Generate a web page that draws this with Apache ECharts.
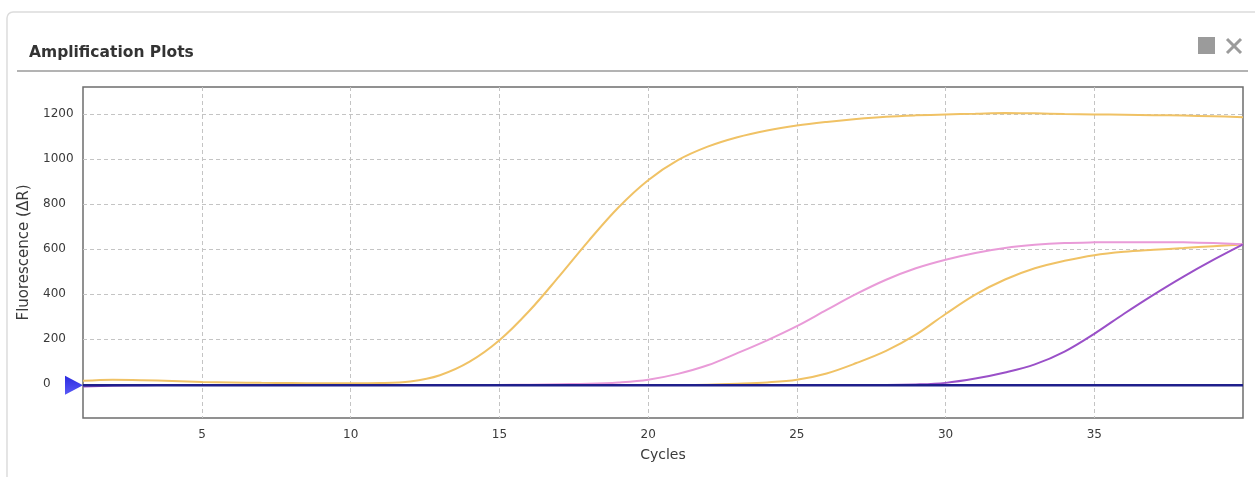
<!DOCTYPE html>
<html>
<head>
<meta charset="utf-8">
<script src="https://cdn.jsdelivr.net/npm/echarts@6/dist/echarts.min.js"></script>
<style>
html,body{margin:0;padding:0;background:#fff;}
#chart{width:1255px;height:477px;}
</style>
</head>
<body>
<div id="chart"></div>
<script>
const CYCLES = [1,2,3,4,5,6,7,8,9,10,11,12,13,14,15,16,17,18,19,20,21,22,23,24,25,26,27,28,29,30,31,32,33,34,35,36,37,38,39,40];
const X_TICKS = [5,10,15,20,25,30,35];
const Y_TICKS = [0,200,400,600,800,1000,1200];
const SAMPLE_A = [15,20,18,14,10,8,6,5,4,4, 5,12,40,100,195,325,478,637,785,906, 995,1055,1097,1127,1149,1165,1178,1188,1194,1198, 1201,1204,1203,1200,1198,1197,1195,1193,1190,1186];
const SAMPLE_B = [-4,-3,-3,-3,-3,-3,-3,-3,-3,-3, -3,-3,-3,-3,-3,-3,-3,-3,-3,-3, -3,-2,2,8,20,48,94,148,220,312, 398,465,515,548,573,588,597,605,613,621];
const SAMPLE_C = [-8,-5,-3,-3,-3,-3,-3,-3,-3,-3, -3,-3,-3,-3,-3,-2,0,2,8,20, 46,84,138,195,258,330,401,464,515,553, 583,605,619,627,630,631,631,630,627,622];
const SAMPLE_D = [-10,-6,-4,-3,-3,-3,-3,-3,-3,-3, -3,-3,-3,-3,-3,-3,-3,-3,-3,-3, -3,-3,-3,-3,-3,-3,-3,-3,-1,6, 25,52,88,145,224,313,398,478,552,621];
const THRESHOLD = -4;

const pairs = arr => CYCLES.map((c, i) => [c, arr[i]]);
const FONT = 'DejaVu Sans';

const chart = echarts.init(document.getElementById('chart'), null, {renderer: 'canvas'});
const curve = (name, arr, color, z) => ({
  name, type: 'line', data: pairs(arr), smooth: 0.35, showSymbol: false, symbol: 'none',
  lineStyle: {color, width: 2}, z, silent: true
});

chart.setOption({
  animation: false,
  backgroundColor: '#fff',
  title: {
    text: 'Amplification Plots', left: 24, top: 40,
    textStyle: {fontFamily: FONT, fontSize: 15.5, fontWeight: 'bold', color: '#333'}
  },
  graphic: [
    {type: 'rect', z: -10, shape: {x: 7, y: 12, width: 1270, height: 490, r: 6},
     style: {fill: '#fff', stroke: '#dcdcdc', lineWidth: 1.5}},
    {type: 'line', shape: {x1: 17, y1: 71, x2: 1248, y2: 71}, style: {stroke: '#b3b3b3', lineWidth: 2}},
    {type: 'rect', shape: {x: 1198, y: 37, width: 17, height: 17}, style: {fill: '#9b9b9b'}},
    {type: 'line', shape: {x1: 1227, y1: 39, x2: 1241, y2: 53}, style: {stroke: '#9b9b9b', lineWidth: 3}},
    {type: 'line', shape: {x1: 1241, y1: 39, x2: 1227, y2: 53}, style: {stroke: '#9b9b9b', lineWidth: 3}}
  ],
  grid: {left: 83, right: 12, top: 87, bottom: 59, containLabel: false, show: true,
         borderColor: '#6e6e6e', borderWidth: 1.5, backgroundColor: '#fff'},
  xAxis: {
    type: 'value', min: 1, max: 40,
    name: 'Cycles', nameLocation: 'middle', nameGap: 30,
    nameTextStyle: {fontFamily: FONT, fontSize: 14, color: '#3a3a3a'},
    axisLine: {show: false}, axisTick: {show: false, customValues: X_TICKS},
    axisLabel: {customValues: X_TICKS, margin: 11, fontFamily: FONT, fontSize: 12, color: '#3a3a3a'},
    splitLine: {show: true, lineStyle: {color: '#c4c4c4', type: [4, 3], width: 1}}
  },
  yAxis: {
    type: 'value', min: -150, max: 1320,
    name: 'Fluorescence (ΔR)', nameLocation: 'middle', nameGap: 40, nameRotate: 90,
    nameTextStyle: {fontFamily: FONT, fontSize: 15, color: '#3a3a3a'},
    axisLine: {show: false}, axisTick: {show: false, customValues: Y_TICKS},
    axisLabel: {customValues: Y_TICKS, margin: 40, align: 'left', formatter: v => String(v),
                fontFamily: FONT, fontSize: 12, color: '#3a3a3a'},
    splitLine: {show: true, lineStyle: {color: '#c4c4c4', type: [4, 3], width: 1}}
  },
  series: [
    curve('A', SAMPLE_A, '#f0c265', 2),
    curve('B', SAMPLE_B, '#f0c265', 3),
    curve('C', SAMPLE_C, '#e99bd8', 4),
    curve('D', SAMPLE_D, '#9a50c8', 5),
    {
      name: 'Threshold', type: 'line', data: pairs(CYCLES.map(() => THRESHOLD)),
      showSymbol: false, symbol: 'none', z: 6, silent: true,
      lineStyle: {color: '#1f1f8c', width: 2.5},
      markPoint: {
        silent: true, animation: false,
        symbol: 'triangle', symbolSize: [19, 18], symbolRotate: -90, symbolOffset: [-9, 0],
        itemStyle: {color: new echarts.graphic.LinearGradient(0, 0, 1, 0, [
          {offset: 0, color: '#2a2ae0'}, {offset: 1, color: '#5a5af5'}])},
        label: {show: false},
        data: [{coord: [CYCLES[0], THRESHOLD]}]
      }
    }
  ]
});
</script>
</body>
</html>
